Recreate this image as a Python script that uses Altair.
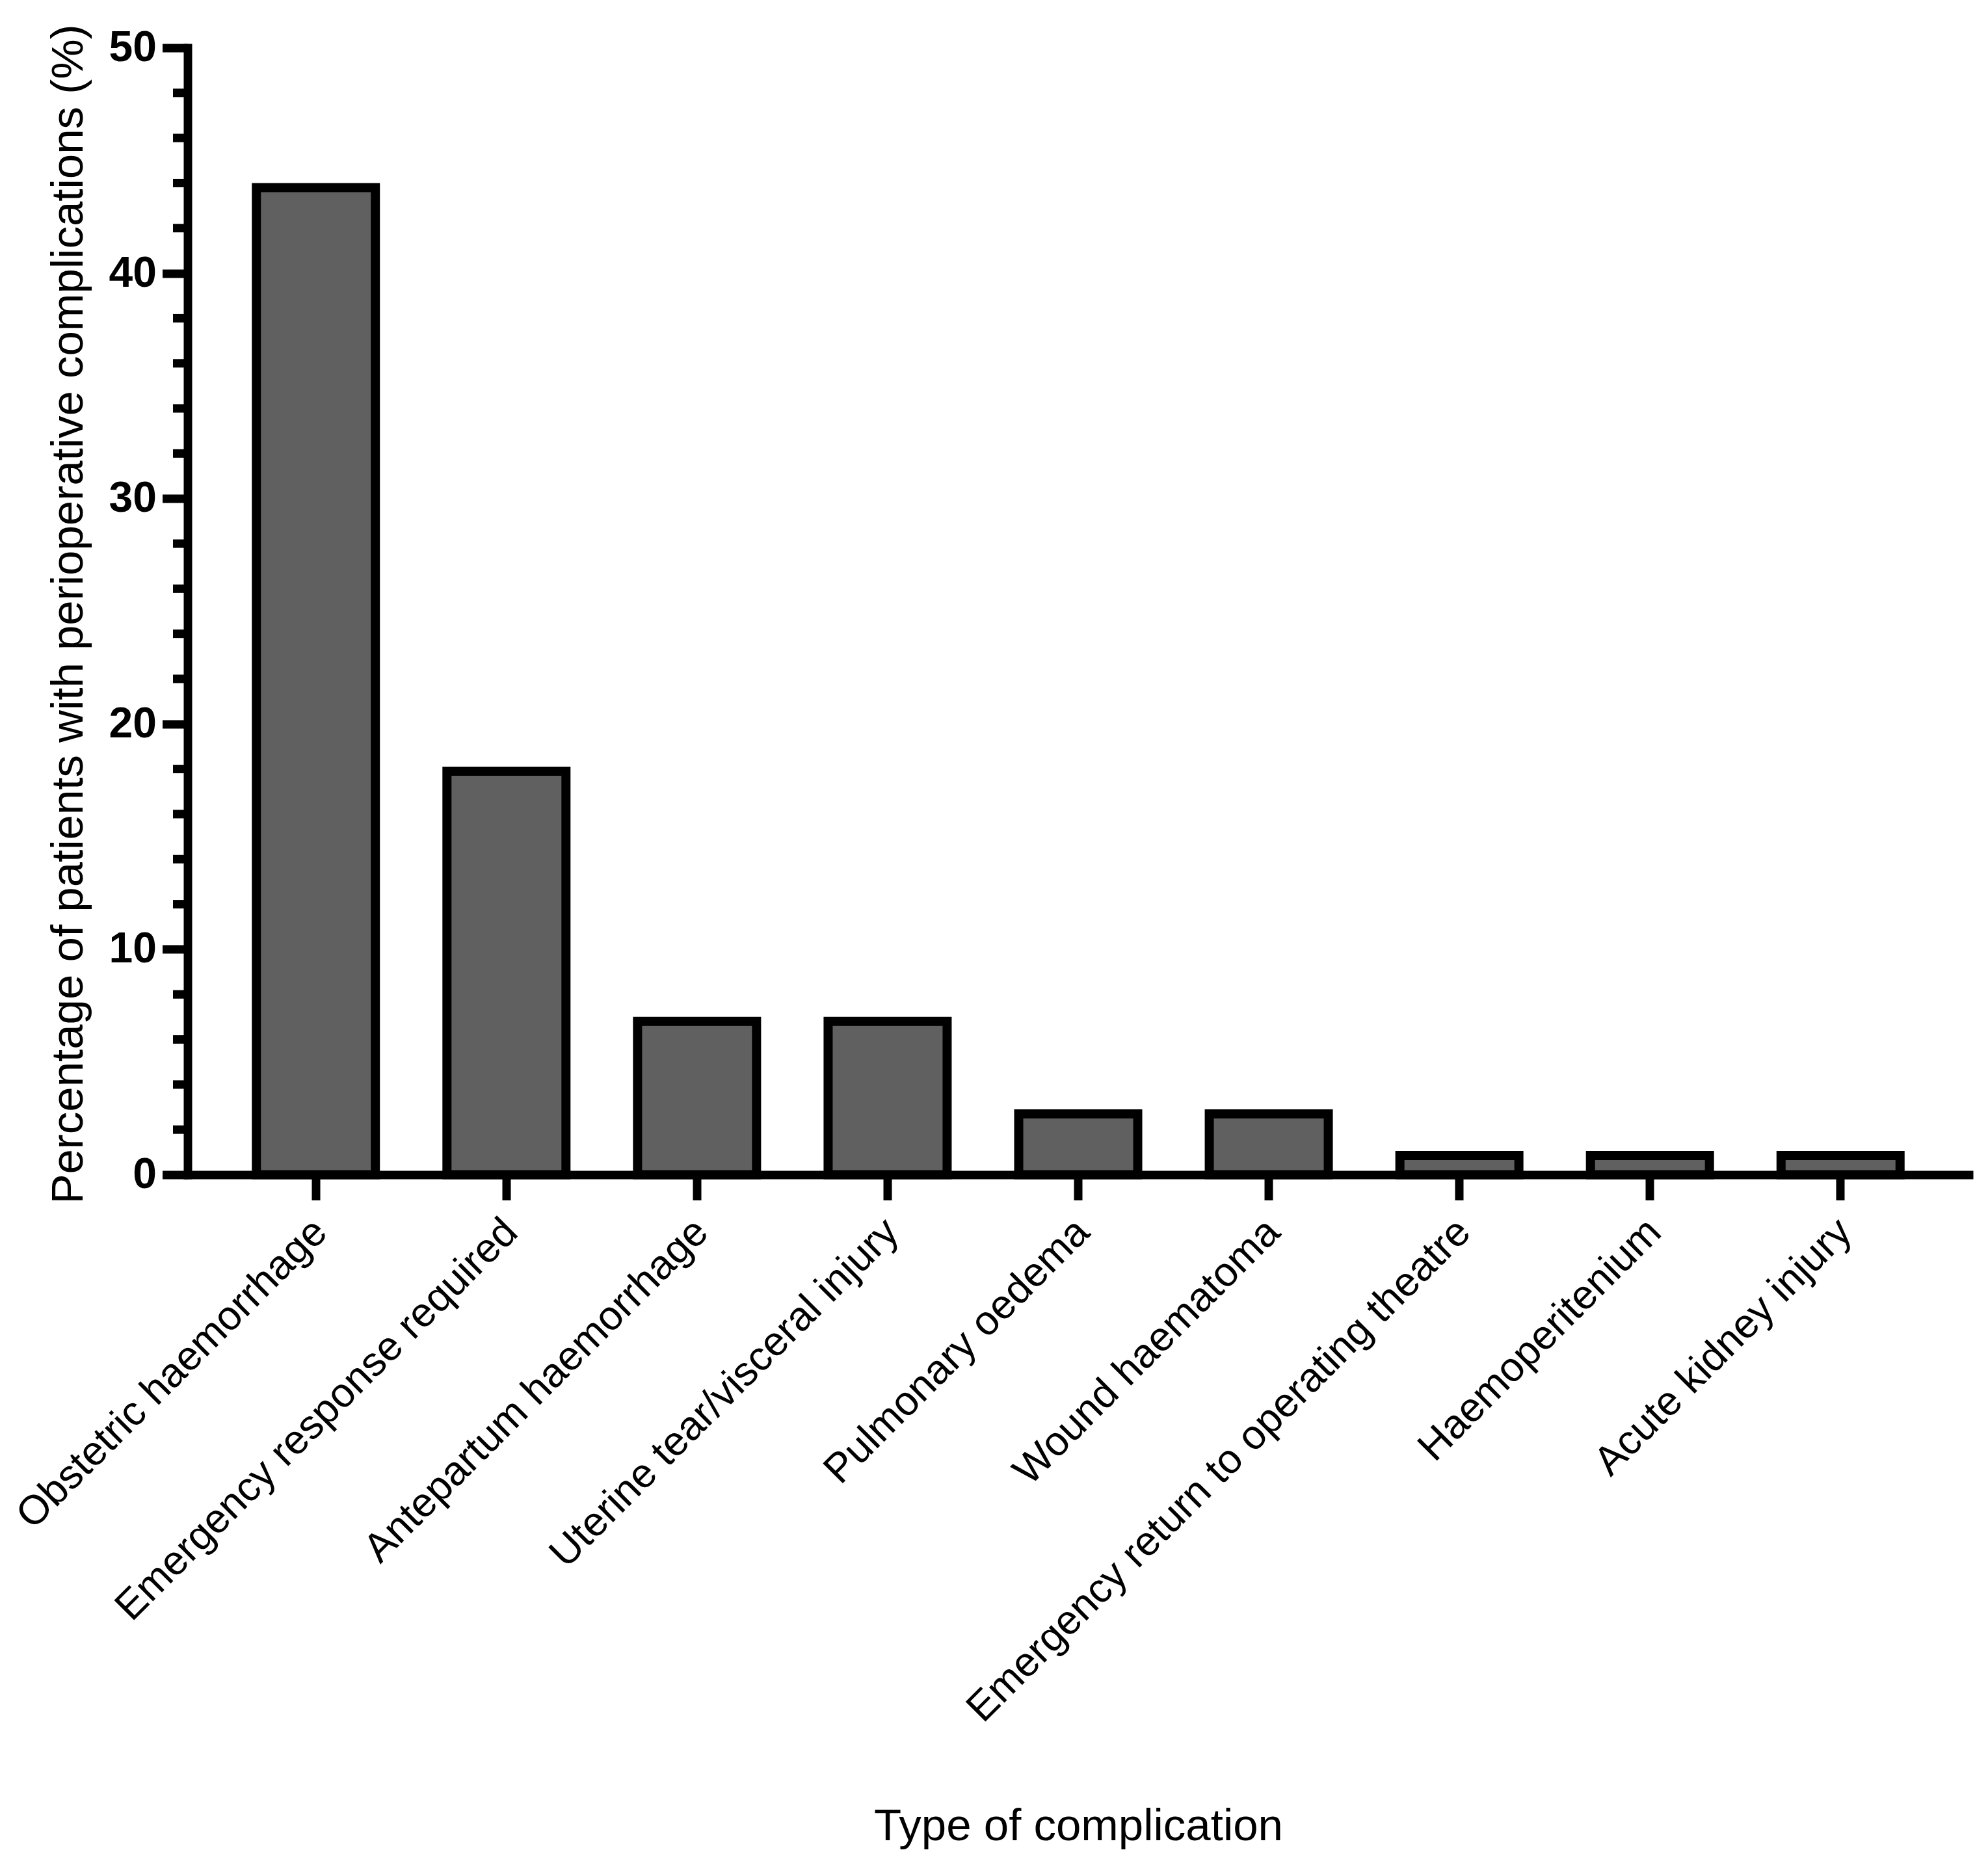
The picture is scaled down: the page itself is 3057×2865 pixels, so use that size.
import altair as alt
import pandas as pd

categories = [
    "Obstetric haemorrhage",
    "Emergency response required",
    "Antepartum haemorrhage",
    "Uterine tear/visceral injury",
    "Pulmonary oedema",
    "Wound haematoma",
    "Emergency return to operating theatre",
    "Haemoperitenium",
    "Acute kidney injury",
]
values = [43.8, 17.9, 6.8, 6.8, 2.7, 2.7, 0.85, 0.85, 0.85]
major_ticks = [0, 10, 20, 30, 40, 50]
minor_ticks = [2, 4, 6, 8, 12, 14, 16, 18, 22, 24, 26, 28, 32, 34, 36, 38, 42, 44, 46, 48]

FONT = "Liberation Sans"

df = pd.DataFrame({"category": categories, "value": values})
minor_df = pd.DataFrame({"value": minor_ticks})

W = 2739
H = 1733

x_axis = alt.Axis(
    title="Type of complication",
    titleFont=FONT, titleFontSize=69, titleFontWeight="normal", titleColor="black",
    titleBaseline="alphabetic", titleAlign="center", titleX=W / 2, titleY=1022.5,
    labelAngle=315, labelAlign="right", labelBaseline="middle",
    labelFont=FONT, labelFontSize=63, labelColor="black",
    labelPadding=39, labelOffset=7, labelLimit=3000, labelOverlap=False,
    tickSize=39, tickWidth=13, tickColor="black",
    domainColor="black", domainWidth=13, domainCap="square",
    grid=False,
)

y_axis = alt.Axis(
    title="Percentage of patients with perioperative complications (%)",
    values=major_ticks, format="d",
    titleFont=FONT, titleFontSize=69, titleFontWeight="normal", titleColor="black",
    titleBaseline="alphabetic", titleAlign="center", titleAngle=270,
    titleX=-162, titleY=H / 2 + 4,
    labelFont=FONT, labelFontSize=66, labelFontWeight="bold", labelColor="black",
    labelPadding=9,
    tickSize=39, tickWidth=13, tickColor="black",
    domainColor="black", domainWidth=13, domainCap="square",
    grid=False,
)

y_scale = alt.Scale(domain=[0, 50], nice=False, zero=True)

bars = alt.Chart(df).mark_bar(fill="#606060", stroke="black", strokeWidth=14).encode(
    x=alt.X("category:N", sort=categories,
            scale=alt.Scale(paddingInner=0.3756, paddingOuter=0.3608),
            axis=x_axis),
    y=alt.Y("value:Q", scale=y_scale, axis=y_axis),
)

minor = alt.Chart(minor_df).mark_rule(color="black", strokeWidth=13).encode(
    y=alt.Y("value:Q", scale=y_scale, axis=y_axis),
    x=alt.value(-22.5),
    x2=alt.value(0),
)

chart = alt.layer(bars, minor).properties(
    width=W, height=H,
    padding={"left": 280.5, "top": 65.5, "right": 20, "bottom": 1050},
    autosize=alt.AutoSizeParams(type="none"),
    background="white",
).configure_view(stroke=None)

chart.save("out.html", embed_options={"renderer": "svg", "actions": False})
